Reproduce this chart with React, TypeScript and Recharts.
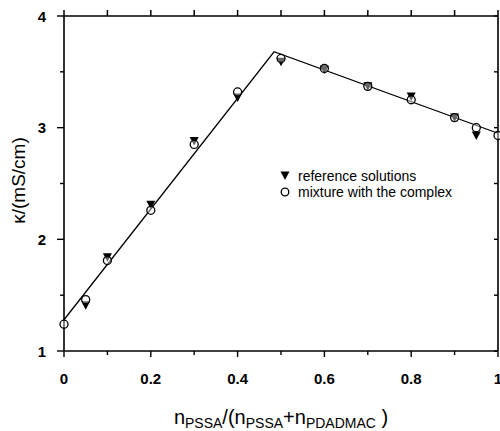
import React from 'react';
import { ScatterChart, Scatter, XAxis, YAxis, Legend, ReferenceLine } from 'recharts';

const referenceX = [0.05, 0.1, 0.2, 0.3, 0.4, 0.5, 0.6, 0.7, 0.8, 0.9, 0.95];
const referenceY = [1.41, 1.84, 2.31, 2.88, 3.27, 3.59, 3.52, 3.37, 3.28, 3.09, 2.93];
const mixtureX = [0, 0.05, 0.1, 0.2, 0.3, 0.4, 0.5, 0.6, 0.7, 0.8, 0.9, 0.95, 1.0];
const mixtureY = [1.24, 1.46, 1.81, 2.26, 2.85, 3.32, 3.62, 3.53, 3.37, 3.25, 3.09, 3.0, 2.93];
const fitX = [0, 0.484, 1.0];
const fitY = [1.28, 3.68, 2.95];
const xTicks = [0, 0.1, 0.2, 0.3, 0.4, 0.5, 0.6, 0.7, 0.8, 0.9, 1];
const yTicks = [1, 1.5, 2, 2.5, 3, 3.5, 4];

const referenceData = referenceX.map((x, i) => ({ x, y: referenceY[i] }));
const mixtureData = mixtureX.map((x, i) => ({ x, y: mixtureY[i] }));
const fitData = fitX.map((x, i) => ({ x, y: fitY[i] }));

const FONT = '"Liberation Sans", Arial, sans-serif';

const isMajorX = (v: number) => Math.abs(v * 5 - Math.round(v * 5)) < 1e-6;
const isMajorY = (v: number) => Math.abs(v - Math.round(v)) < 1e-6;
const fmtX = (v: number) => (v === 0 ? '0' : v === 1 ? '1' : v.toFixed(1));

const BottomTick = (props: any) => {
  const { x, y, payload } = props;
  const v = payload.value;
  const major = isMajorX(v);
  return (
    <g>
      <line x1={x} x2={x} y1={y} y2={y + (major ? 6 : 4)} stroke="#000" strokeWidth={1.4} />
      {major && (
        <text x={x} y={y + 33} textAnchor="middle" fontWeight="bold" fontSize={15} fontFamily={FONT} fill="#000">
          {fmtX(v)}
        </text>
      )}
    </g>
  );
};

const LeftTick = (props: any) => {
  const { x, y, payload } = props;
  const v = payload.value;
  const major = isMajorY(v);
  return (
    <g>
      <line x1={x} x2={x - (major ? 7 : 4)} y1={y} y2={y} stroke="#000" strokeWidth={1.4} />
      {major && (
        <text x={x - 18} y={y + 5.5} textAnchor="end" fontWeight="bold" fontSize={15} fontFamily={FONT} fill="#000">
          {String(v)}
        </text>
      )}
    </g>
  );
};

// Short tick at the top edge of a vertical reference line
const TopTickShape = (props: any) => {
  const { x1, y1, y2 } = props;
  if (x1 == null || y1 == null || y2 == null) return null;
  const top = Math.min(y1, y2);
  return <line x1={x1} x2={x1} y1={top} y2={top - 6} stroke="#000" strokeWidth={1.5} />;
};

// Short inward tick at the right edge of a horizontal reference line
const RightTickShape = (props: any) => {
  const { x1, x2, y1 } = props;
  if (x1 == null || x2 == null || y1 == null) return null;
  const right = Math.max(x1, x2);
  return <line x1={right} x2={right - 4} y1={y1} y2={y1} stroke="#000" strokeWidth={1.4} />;
};

const TriangleShape = (props: any) => {
  const { cx, cy } = props;
  if (cx == null || cy == null) return null;
  const w = 4.5;
  return <path d={`M${cx - w},${cy - 4} L${cx + w},${cy - 4} L${cx},${cy + 4.5} Z`} fill="#000" />;
};

const CircleShape = (props: any) => {
  const { cx, cy } = props;
  if (cx == null || cy == null) return null;
  return <circle cx={cx} cy={cy} r={4} fill="#fff" fillOpacity={0.4} stroke="#000" strokeWidth={1.3} />;
};

const NoShape = () => null;

const XLabel = (props: any) => {
  const vb = props.viewBox || { x: 64, y: 351, width: 434 };
  const cx = vb.x + vb.width / 2;
  const y = vb.y + 73;
  return (
    <text x={cx} y={y} textAnchor="middle" fontFamily={FONT} fontSize={20} fill="#000">
      <tspan>n</tspan>
      <tspan fontSize={14} dy={4}>PSSA</tspan>
      <tspan dy={-4}>/(n</tspan>
      <tspan fontSize={14} dy={4}>PSSA</tspan>
      <tspan dy={-4}>+n</tspan>
      <tspan fontSize={14} dy={4}>PDADMAC</tspan>
      <tspan dy={-4}> )</tspan>
    </text>
  );
};

const YLabel = (props: any) => {
  const vb = props.viewBox || { x: 4, y: 16, height: 335 };
  const cy = vb.y + vb.height / 2 - 3;
  const x = 25;
  return (
    <text x={x} y={cy} textAnchor="middle" fontFamily={FONT} fontSize={19} fill="#000" transform={`rotate(-90, ${x}, ${cy})`}>
      κ/(mS/cm)
    </text>
  );
};

const LegendContent = () => (
  <div style={{ fontFamily: FONT, fontSize: 14, color: '#000', lineHeight: '16px' }}>
    <div style={{ display: 'flex', alignItems: 'center', height: 16 }}>
      <svg width={14} height={16} style={{ marginRight: 6 }}>
        <path d="M2.5,3.5 L11.5,3.5 L7,12 Z" fill="#000" />
      </svg>
      <span>reference solutions</span>
    </div>
    <div style={{ display: 'flex', alignItems: 'center', height: 16 }}>
      <svg width={14} height={16} style={{ marginRight: 6 }}>
        <circle cx={7} cy={8} r={3.8} fill="none" stroke="#000" strokeWidth={1.3} />
      </svg>
      <span>mixture with the complex</span>
    </div>
  </div>
);

export default function App() {
  return (
    <div style={{ position: 'absolute', left: 0, top: 0, width: 500, height: 431, background: '#fff' }}>
      <ScatterChart width={500} height={431} margin={{ top: 15, right: 1, bottom: 50, left: 4 }}>
        <XAxis
          xAxisId="bottom"
          dataKey="x"
          type="number"
          domain={[0, 1]}
          ticks={xTicks}
          interval={0}
          orientation="bottom"
          height={30}
          tickSize={0}
          tickMargin={0}
          tickLine={false}
          tick={<BottomTick />}
          axisLine={{ stroke: '#000', strokeWidth: 1.6 }}
          label={<XLabel />}
        />
        <XAxis
          xAxisId="top"
          dataKey="x"
          type="number"
          domain={[0, 1]}
          orientation="top"
          height={1}
          tickLine={false}
          tick={false}
          axisLine={{ stroke: '#000', strokeWidth: 1.6 }}
        />
        <YAxis
          yAxisId="left"
          dataKey="y"
          type="number"
          domain={[1, 4]}
          ticks={yTicks}
          interval={0}
          orientation="left"
          width={60}
          tickSize={0}
          tickMargin={0}
          tickLine={false}
          tick={<LeftTick />}
          axisLine={{ stroke: '#000', strokeWidth: 1.6 }}
          label={<YLabel />}
        />
        <YAxis
          yAxisId="right"
          dataKey="y"
          type="number"
          domain={[1, 4]}
          orientation="right"
          width={1}
          tickLine={false}
          tick={false}
          axisLine={{ stroke: '#000', strokeWidth: 1.6 }}
        />
        <Scatter
          xAxisId="top"
          yAxisId="right"
          data={fitData}
          shape={<NoShape />}
          isAnimationActive={false}
          legendType="none"
        />
        {xTicks.map((t) => (
          <ReferenceLine
            key={`tx${t}`}
            xAxisId="bottom"
            yAxisId="left"
            x={t}
            ifOverflow="visible"
            shape={<TopTickShape />}
          />
        ))}
        {yTicks.map((t) => (
          <ReferenceLine
            key={`ry${t}`}
            xAxisId="bottom"
            yAxisId="left"
            y={t}
            ifOverflow="visible"
            shape={<RightTickShape />}
          />
        ))}
        <Scatter
          name="fit"
          xAxisId="bottom"
          yAxisId="left"
          data={fitData}
          line={{ stroke: '#000', strokeWidth: 1.3 }}
          shape={<NoShape />}
          isAnimationActive={false}
          legendType="none"
        />
        <Scatter
          name="reference solutions"
          xAxisId="bottom"
          yAxisId="left"
          data={referenceData}
          shape={<TriangleShape />}
          isAnimationActive={false}
        />
        <Scatter
          name="mixture with the complex"
          xAxisId="bottom"
          yAxisId="left"
          data={mixtureData}
          shape={<CircleShape />}
          isAnimationActive={false}
        />
        <Legend
          layout="horizontal"
          verticalAlign="middle"
          align="center"
          content={<LegendContent />}
          wrapperStyle={{ position: 'absolute', left: 278, top: 168, width: 200 }}
        />
      </ScatterChart>
    </div>
  );
}
